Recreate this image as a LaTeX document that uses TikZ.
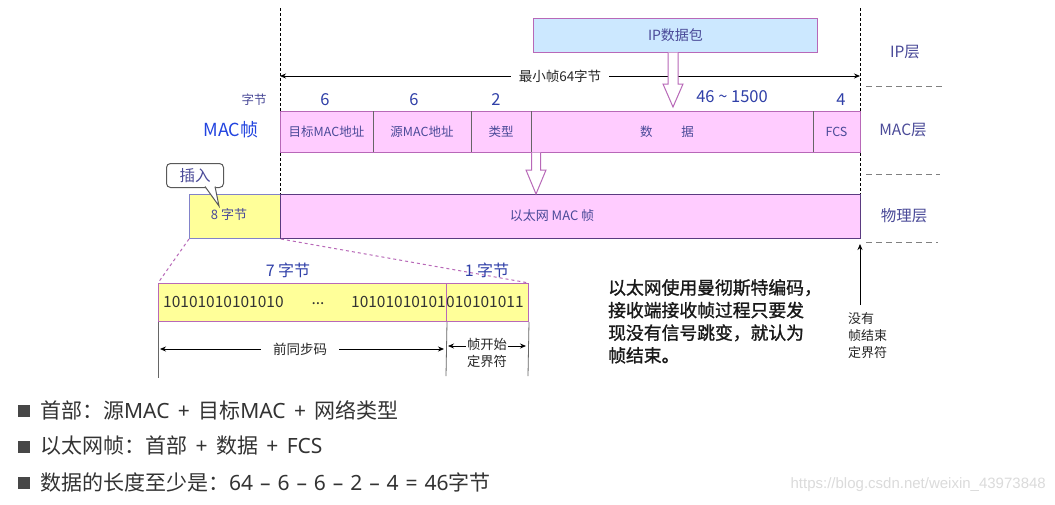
\documentclass[tikz,border=0pt]{standalone}
\usepackage{fontspec}
\setmainfont{Noto Sans CJK SC}
\newfontfamily\wmfont{Liberation Sans}
\newfontfamily\latf{Noto Sans}
\newfontfamily\medf[FakeBold=1.3]{Noto Sans CJK SC}
\newcommand{\lt}[1]{{\latf #1}}
\newcommand{\bs}{\hspace{0.4em}}
\newcommand{\bt}{\hspace{0.33em}}
\usetikzlibrary{arrows.meta}
\definecolor{pinkf}{HTML}{FFCCFF}
\definecolor{bluef}{HTML}{CCE8FF}
\definecolor{yellowf}{HTML}{FFFF99}
\definecolor{purpb}{HTML}{B868B8}
\definecolor{darkpurp}{HTML}{5A3A80}
\definecolor{numblue}{HTML}{3040A8}
\definecolor{lblue}{HTML}{4A4A98}
\definecolor{macblue}{HTML}{2244E0}
\definecolor{txtgray}{HTML}{333333}
\tikzset{
  cellbox/.style={draw=purpb, fill=pinkf, inner sep=0, outer sep=0, anchor=north west, minimum height=41, text=lblue, font=\fontsize{12.5}{14}\selectfont},
  hollow/.style={draw=purpb, fill=white, line width=1},
  numtxt/.style={text=numblue, font=\fontsize{16.5}{18}\selectfont, inner sep=0},
  layertxt/.style={text=lblue, font=\fontsize{15.5}{17}\selectfont, inner sep=0},
  vdash/.style={densely dashed, line width=0.7, black},
  sepdash/.style={dashed, dash pattern=on 6pt off 4pt, gray, line width=1},
  pinkdash/.style={dash pattern=on 3pt off 3pt, draw=purpb, line width=1},
  blk/.style={-{Stealth[length=6,width=5]}, black, line width=0.8},
  bullettxt/.style={text=txtgray, anchor=west, inner sep=0, font=\fontsize{21}{24}\selectfont},
  bsq/.style={fill=txtgray!90, minimum size=11.5, inner sep=0},
}
\begin{document}
\begin{tikzpicture}[x=1pt,y=-1pt]
\useasboundingbox[fill=white] (0,0) rectangle (1055,504);

% dashed verticals
\coordinate (LT) at (280,8);
\coordinate (LB) at (280,194);
\coordinate (RT) at (860,8);
\coordinate (RB) at (860,238);
\draw[vdash] (LT) -- (LB);
\draw[vdash] (RT) -- (RB);

% layer separators
\coordinate (s1a) at (866,86); \coordinate (s1b) at (942,86);
\coordinate (s2a) at (866,174); \coordinate (s2b) at (940,174);
\coordinate (s3a) at (866,242); \coordinate (s3b) at (938,242);
\draw[sepdash] (s1a) -- (s1b);
\draw[sepdash] (s2a) -- (s2b);
\draw[sepdash] (s3a) -- (s3b);

% layer labels
\node[layertxt] (ipl) at (905,52) {IP层};
\node[layertxt] (macl) at (903,130) {MAC层};
\node[layertxt] (phyl) at (904,216) {物理层};

% IP box
\node[draw=purpb, fill=bluef, line width=1, minimum width=284, minimum height=34, inner sep=0, anchor=north west, text=lblue, font=\fontsize{14}{16}\selectfont] (ip) at (533,18) {IP数据包};

% min frame arrow
\node[inner sep=8, font=\fontsize{13.5}{15}\selectfont, text=black!85] (minf) at (560,76) {最小帧64字节};
\coordinate (ml) at (280,76);
\coordinate (mr) at (860,76);
\draw[blk] (minf.west) -- (ml);
\draw[blk] (minf.east) -- (mr);

% byte counts
\node[text=lblue, font=\fontsize{12.5}{14}\selectfont, inner sep=0] (zj) at (254,100) {字节};
\node[numtxt] (n1) at (325,100) {6};
\node[numtxt] (n2) at (414,100) {6};
\node[numtxt] (n3) at (496,100) {2};
\node[numtxt] (n4) at (732,97) {46 \textasciitilde\ 1500};
\node[numtxt] (n5) at (841,100) {4};
\node[text=macblue, font=\fontsize{18}{20}\selectfont, inner sep=0] (macf) at (231,130) {MAC帧};

% MAC frame row
\node[cellbox, minimum width=93] (dst) at (280,111) {目标MAC地址};
\node[cellbox, minimum width=98] (src) at (373,111) {源MAC地址};
\node[cellbox, minimum width=60] (typ) at (471,111) {类型};
\node[cellbox, minimum width=282] (dat) at (531,111) {};
\node[cellbox, minimum width=47] (fcs) at (813,111) {FCS};
\node[text=lblue, font=\fontsize{12.5}{14}\selectfont, inner sep=0] (datl) at (667,132) {数\hspace{2.3em}据};
\draw[gray!80!black, line width=0.8] (src.north west) -- (src.south west);
\draw[gray!80!black, line width=0.8] (typ.north west) -- (typ.south west);
\draw[gray!80!black, line width=0.8] (dat.north west) -- (dat.south west);
\draw[gray!80!black, line width=0.8] (fcs.north west) -- (fcs.south west);

% hollow arrow IP -> data
\draw[hollow] (668,52.5) -- (668,84) -- (663,84) -- (673,107) -- (683,84) -- (678,84) -- (678,52.5);

% physical row
\node[draw=gray!60!blue!70, fill=yellowf, line width=1, minimum width=91, minimum height=44, inner sep=0, anchor=north west] (pre) at (189,194) {};
\node[draw=darkpurp, fill=pinkf, line width=1, minimum width=580, minimum height=44, inner sep=0, anchor=north west] (eth) at (280,194) {};
\node[text=lblue, font=\fontsize{13}{15}\selectfont, inner sep=0] (pret) at (229,215) {8 字节};
\node[text=lblue, font=\fontsize{13}{15}\selectfont, inner sep=0] (etht) at (552,216) {以太网 MAC 帧};

% hollow arrow MAC -> physical
\draw[hollow] (531.5,152.5) -- (531.5,170) -- (526,170) -- (536,194) -- (546,170) -- (540.5,170) -- (540.5,152.5);

% callout
\node[draw=black!65, line width=1, rounded corners=4, fill=white, minimum width=57, minimum height=24, inner sep=0, anchor=north west, text=lblue, font=\fontsize{15.5}{17}\selectfont] (ins) at (166,163) {插入};
\coordinate (tip) at (219,206);
\fill[white] (205,186) -- (tip) -- (215,186) -- cycle;
\draw[black!65, line width=1] (205,186.5) -- (tip) -- (215,186.5);

% preamble detail
\node[draw=purpb, fill=yellowf, line width=1, minimum width=288, minimum height=38, inner sep=0, anchor=north west] (p7) at (158,283) {};
\node[draw=purpb, fill=yellowf, line width=1, minimum width=82, minimum height=38, inner sep=0, anchor=north west] (p1) at (446,283) {};
\draw[pinkdash] (pre.south west) -- (p7.north west);
\draw[pinkdash] (pre.south east) -- (p1.north east);
\node[text=numblue, font=\fontsize{16}{18}\selectfont, inner sep=0] (b7) at (288,270) {7 字节};
\node[text=numblue, font=\fontsize{16}{18}\selectfont, inner sep=0] (b1) at (487,270) {1 字节};
\node[font=\fontsize{15.5}{17}\selectfont, text=black!80, inner sep=0, anchor=west] (bits1) at (163,302) {10101010101010};
\node[font=\fontsize{15.5}{17}\selectfont, text=black!80, inner sep=0] (dots) at (318,304) {...};
\node[font=\fontsize{15.5}{17}\selectfont, text=black!80, inner sep=0, anchor=east] (bits2) at (446,302) {10101010101};
\node[font=\fontsize{15.5}{17}\selectfont, text=black!80, inner sep=0, anchor=west] (bits3) at (446,302) {010101011};

% verticals below preamble
\coordinate (v1) at (158,378); \coordinate (v2) at (446,376); \coordinate (v3) at (528,376);
\draw[gray!80!black, line width=0.8] (p7.south west) -- (v1);
\draw[gray!80!black, line width=0.8] (p7.south east) -- (v2);
\draw[gray!80!black, line width=0.8] (p1.south east) -- (v3);

% 前同步码
\coordinate (a1) at (160,349); \coordinate (a2) at (444,349);
\node[font=\fontsize{13.5}{15}\selectfont, text=black!85, inner sep=0] (qt) at (300,349) {前同步码};
\draw[blk] ([xshift=-12]qt.west) -- (a1);
\draw[blk] ([xshift=12]qt.east) -- (a2);
% 帧开始定界符
\node[font=\fontsize{13.3}{17}\selectfont, text=black!85, inner sep=0, align=center] (sfd) at (487,353) {帧开始\\定界符};
\coordinate (c1) at (448,346); \coordinate (c2) at (526,346);
\draw[blk] (466,346) -- (c1);
\draw[blk] (508,346) -- (c2);

% explanation text
\node[font=\medf\fontsize{17.8}{22.6}\selectfont, text=black!90, align=left, anchor=north west, inner sep=0] (expl) at (608,279) {以太网使用曼彻斯特编码，\\接收端接收帧过程只要发\\现没有信号跳变，就认为\\帧结束。};

% no end delimiter
\node[font=\fontsize{13}{17}\selectfont, text=black!85, align=left, anchor=north west, inner sep=0] (noend) at (848,312) {没有\\帧结束\\定界符};
\coordinate (up) at (860,244);
\draw[blk] (860,305) -- (up);

% bullets
\node[bsq] (q1) at (24,411) {};
\node[bsq] (q2) at (24,447) {};
\node[bsq] (q3) at (24,483) {};
\node[bullettxt] (t1) at (40,410) {首部：源\lt{MAC\bs+\bs}目标\lt{MAC\bs+\bs}网络类型};
\node[bullettxt] (t2) at (40,446) {以太网帧：首部\lt{\bs+\bs}数据\lt{\bs+\bs FCS}};
\node[bullettxt] (t3) at (40,482) {数据的长度至少是：\lt{64\bt–\bt6\bt–\bt6\bt–\bt2\bt–\bt4\bt=\bt46}字节};

% watermark
\node[text=black!14, font=\wmfont\fontsize{15}{17}\selectfont, inner sep=0, anchor=east] (wm) at (1046,485) {https://blog.csdn.net/weixin\_43973848};
\end{tikzpicture}
\end{document}
